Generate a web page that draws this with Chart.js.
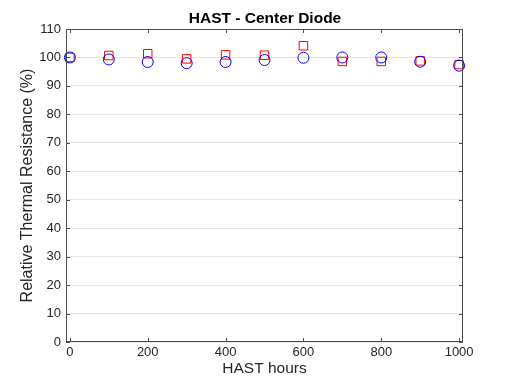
<!DOCTYPE html>
<html>
<head>
<meta charset="utf-8">
<script src="https://cdn.jsdelivr.net/npm/chart.js@4"></script>
<style>
  html, body { margin: 0; padding: 0; background: #fff; }
  #wrap { width: 512px; height: 385px; }
</style>
</head>
<body>
<div id="wrap"><canvas id="hastChart" width="512" height="385"></canvas></div>
<script>
// HAST hours and relative thermal resistance (%)
var hours = [0, 100, 200, 300, 400, 500, 600, 700, 800, 900, 1000];
var blueVals = [100, 99.3, 98.4, 98.0, 98.4, 99.1, 99.9, 100, 100, 98.5, 97.1];
var redVals = [100, 100.7, 101.3, 99.5, 100.9, 100.8, 104.1, 98.6, 98.6, 98.8, 97.5];
var xTicks = [0, 200, 400, 600, 800, 1000];
var yTicks = [0, 10, 20, 30, 40, 50, 60, 70, 80, 90, 100, 110];

var fontFam = 'Liberation Sans, Arial, sans-serif';

function toPoints(vals) {
    return hours.map(function (h, i) { return { x: h, y: vals[i] }; });
}

// box round the plot plus small inward ticks on all four sides
var boxPlugin = {
    id: 'boxPlugin',
    afterDraw: function (chart) {
        var ctx = chart.ctx;
        var a = chart.chartArea;
        var xs = chart.scales.x, ys = chart.scales.y;
        var len = 4;
        ctx.save();
        ctx.strokeStyle = '#4d4d4d';
        ctx.lineWidth = 1;
        ctx.strokeRect(a.left + 0.5, a.top + 0.5, a.right - a.left - 1, a.bottom - a.top - 1);
        ctx.beginPath();
        xTicks.forEach(function (v) {
            var px = Math.round(xs.getPixelForValue(v)) + 0.5;
            ctx.moveTo(px, a.bottom); ctx.lineTo(px, a.bottom - len);
            ctx.moveTo(px, a.top); ctx.lineTo(px, a.top + len);
        });
        yTicks.forEach(function (v) {
            var py = Math.round(ys.getPixelForValue(v)) + 0.5;
            ctx.moveTo(a.left, py); ctx.lineTo(a.left + len, py);
            ctx.moveTo(a.right, py); ctx.lineTo(a.right - len, py);
        });
        ctx.stroke();
        ctx.restore();
    }
};

var ctx = document.getElementById('hastChart').getContext('2d');
var chart = new Chart(ctx, {
    type: 'scatter',
    data: {
        datasets: [{
            label: 'Blue',
            data: toPoints(blueVals),
            pointStyle: 'circle',
            pointRadius: 5.5,
            pointBorderWidth: 1,
            borderColor: '#0000ff',
            backgroundColor: 'rgba(0,0,0,0)',
            clip: false
        }, {
            label: 'Red',
            data: toPoints(redVals),
            pointStyle: 'rect',
            pointRadius: 6,
            pointBorderWidth: 1,
            borderColor: '#ff0000',
            backgroundColor: 'rgba(0,0,0,0)',
            clip: false
        }]
    },
    options: {
        responsive: false,
        animation: false,
        layout: { padding: { left: 18, right: 0, top: 0, bottom: 0 } },
        plugins: {
            legend: { display: false },
            tooltip: { enabled: false },
            title: {
                display: true,
                text: 'HAST - Center Diode',
                color: '#000',
                font: { family: fontFam, size: 15.5, weight: 'bold' },
                padding: { top: 9, bottom: 1.4 }
            }
        },
        scales: {
            x: {
                type: 'linear',
                min: -10,
                max: 1010,
                afterBuildTicks: function (axis) {
                    axis.ticks = xTicks.map(function (v) { return { value: v }; });
                },
                afterFit: function (axis) { axis.height = 43; },
                grid: { display: false, drawTicks: false },
                border: { display: false },
                ticks: {
                    color: '#262626',
                    padding: 3,
                    maxRotation: 0,
                    callback: function (v) { return String(v); },
                    font: { family: fontFam, size: 13 }
                },
                title: {
                    display: true,
                    text: 'HAST hours',
                    color: '#262626',
                    padding: { top: 0, bottom: 7 },
                    font: { family: fontFam, size: 15.5 }
                }
            },
            y: {
                min: 0,
                max: 110,
                afterBuildTicks: function (axis) {
                    axis.ticks = yTicks.map(function (v) { return { value: v }; });
                },
                afterFit: function (axis) { axis.width = 48; },
                grid: { color: '#e6e6e6', lineWidth: 1, drawTicks: false },
                border: { display: false },
                ticks: {
                    color: '#262626',
                    padding: 5,
                    font: { family: fontFam, size: 13 }
                },
                title: {
                    display: true,
                    text: 'Relative Thermal Resistance (%)',
                    color: '#262626',
                    padding: { top: 0, bottom: 0 },
                    font: { family: fontFam, size: 16 }
                }
            },
            // empty right axis only to reserve the white margin on the right
            yRight: {
                position: 'right',
                min: 0,
                max: 110,
                afterFit: function (axis) { axis.width = 49; },
                grid: { display: false, drawTicks: false },
                border: { display: false },
                ticks: { display: false }
            }
        }
    },
    plugins: [boxPlugin]
});
</script>
</body>
</html>
